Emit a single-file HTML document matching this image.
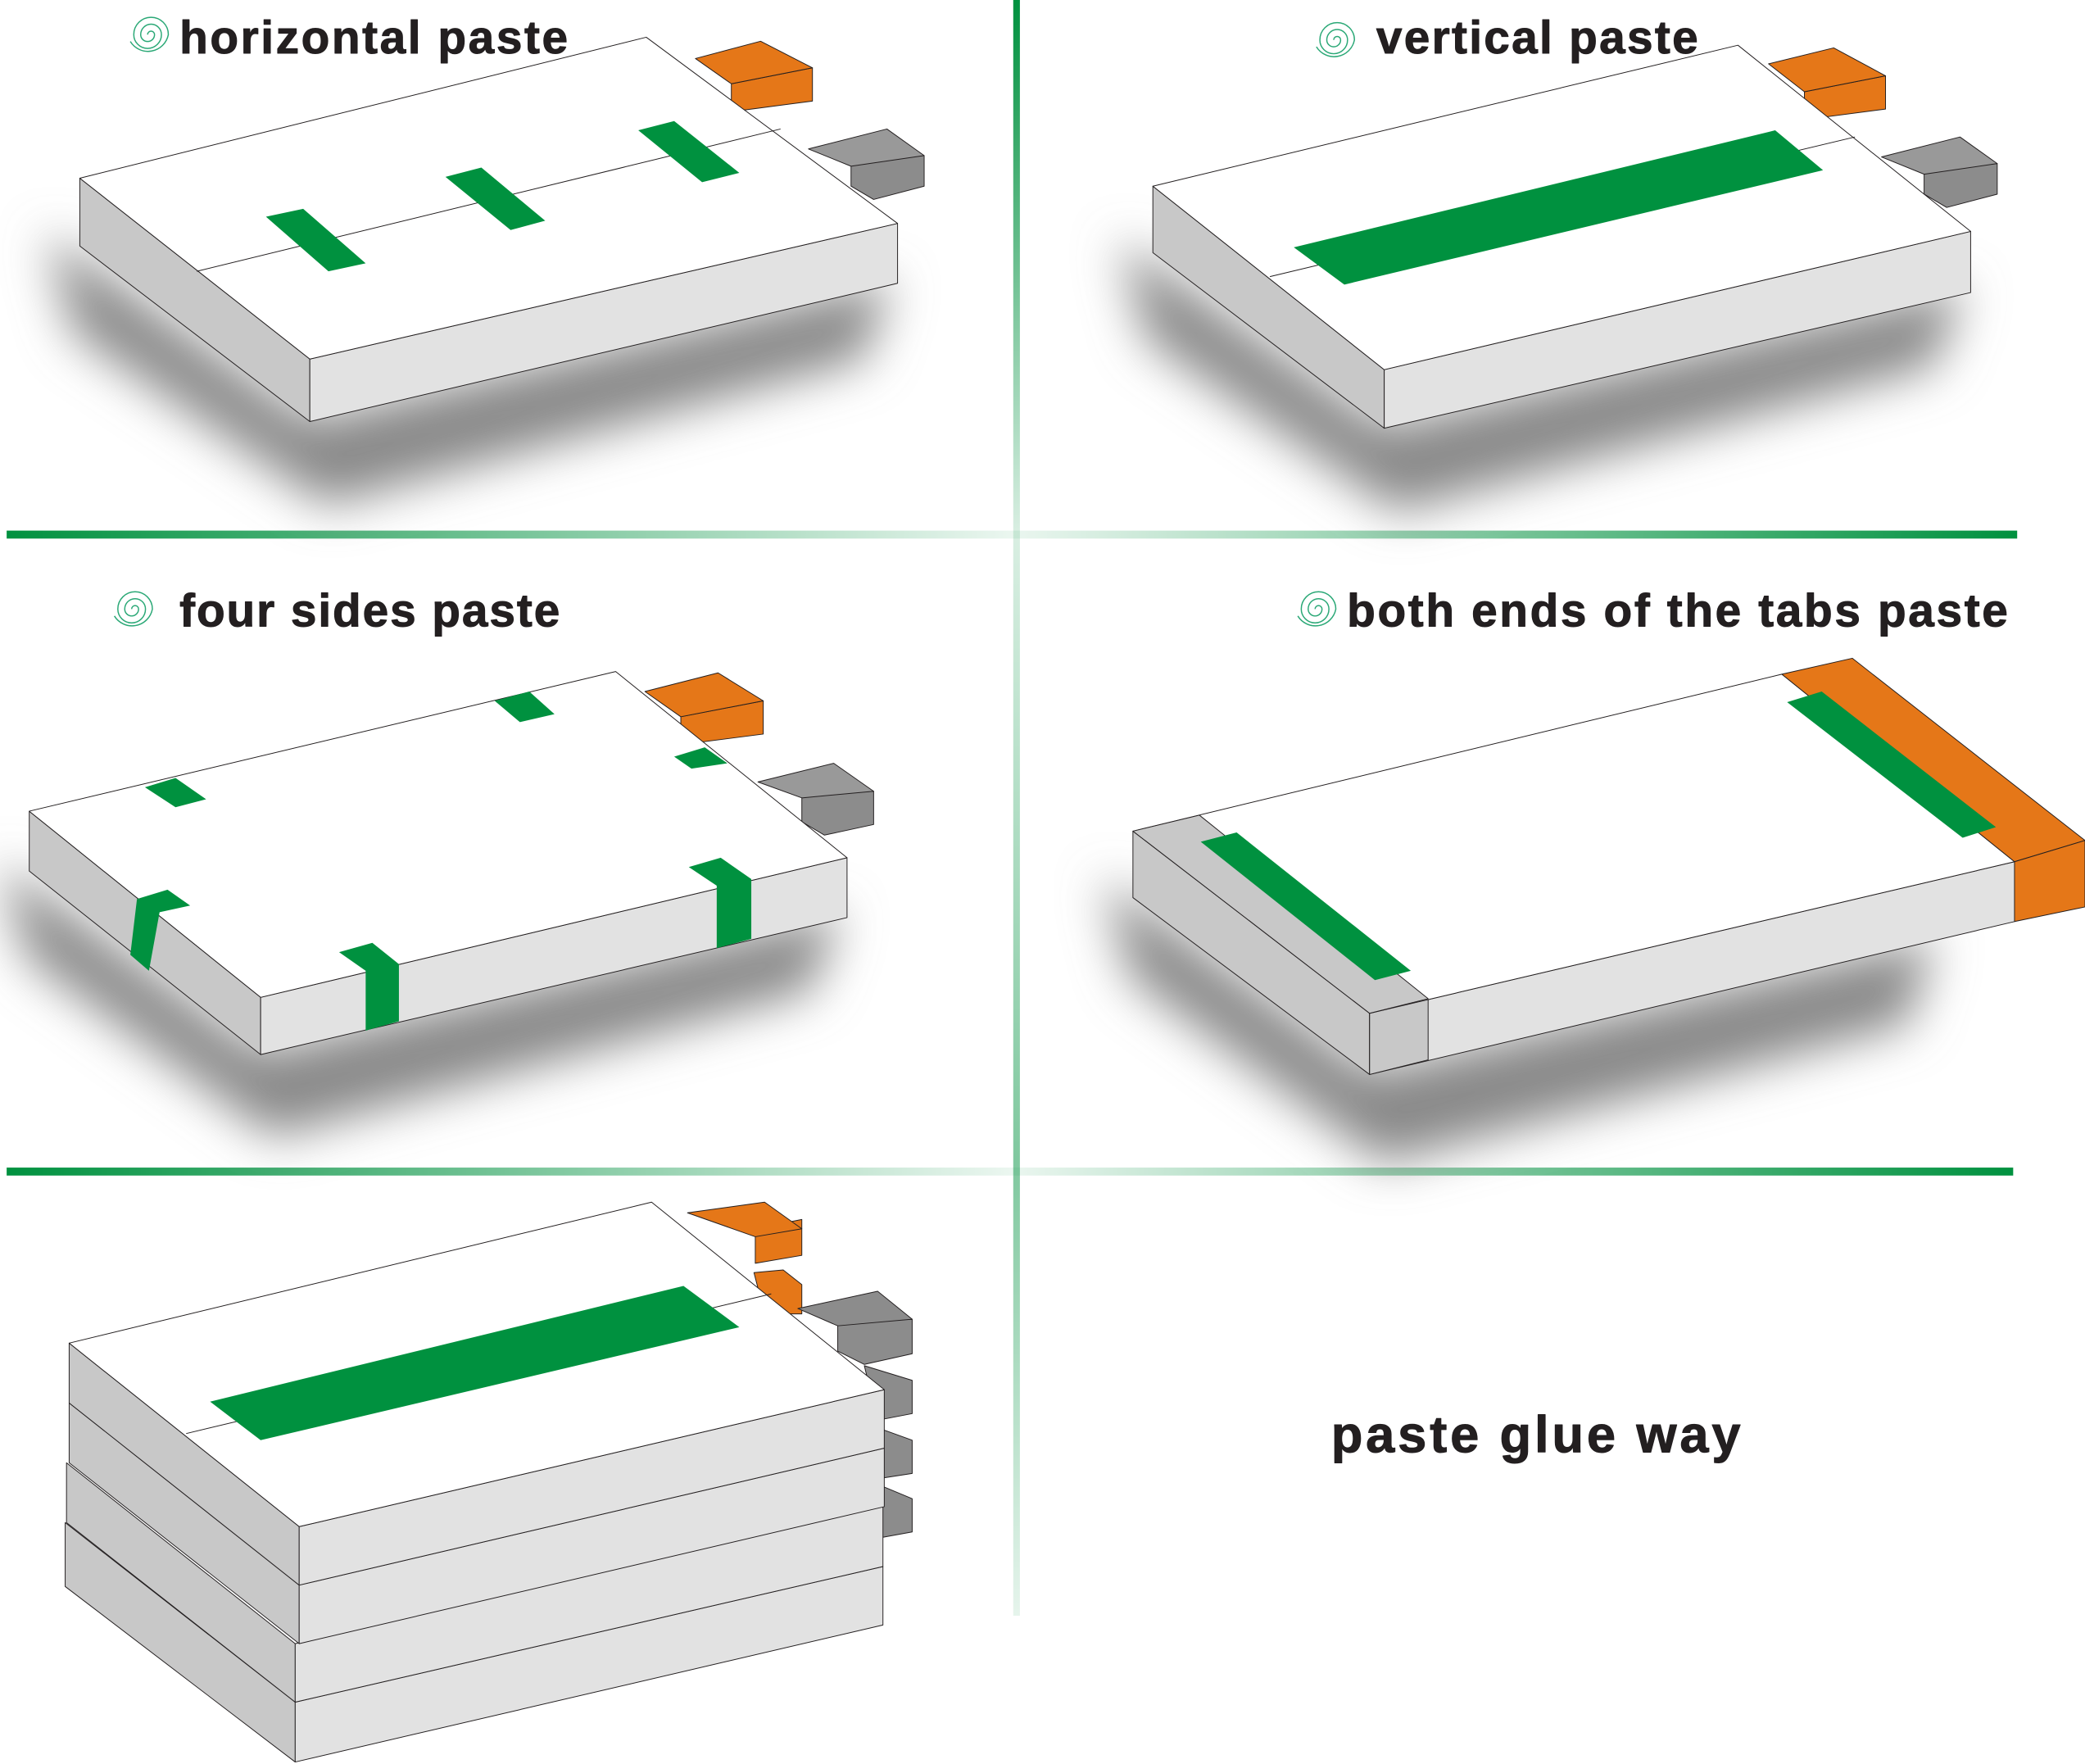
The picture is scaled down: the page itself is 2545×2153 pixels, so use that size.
<!DOCTYPE html>
<html><head><meta charset="utf-8"><style>
html,body{margin:0;padding:0;background:#fff;}
svg{display:block;}
text{font-family:"Liberation Sans",sans-serif;font-weight:bold;fill:#231f20;}
</style></head><body>
<svg width="2545" height="2153" viewBox="0 0 1568 1326.5" xmlns="http://www.w3.org/2000/svg">
<defs>
<filter id="bl" x="-30%" y="-30%" width="160%" height="160%"><feGaussianBlur stdDeviation="18"/></filter>
<linearGradient id="hg" x1="0" x2="1" y1="0" y2="0">
<stop offset="0" stop-color="#00913f"/><stop offset="0.5" stop-color="#00913f" stop-opacity="0.08"/><stop offset="1" stop-color="#00913f"/></linearGradient>
<linearGradient id="vg" x1="0" x2="0" y1="0" y2="1">
<stop offset="0" stop-color="#00913f"/><stop offset="0.33" stop-color="#00913f" stop-opacity="0.15"/><stop offset="0.72" stop-color="#00913f" stop-opacity="0.5"/><stop offset="1" stop-color="#00913f" stop-opacity="0.1"/></linearGradient>
<g id="sp"><path d="M0,0 a2,2 0 0 1 4,0 a4,4 0 0 1 -8,0 a6,6 0 0 1 12,0 a8,8 0 0 1 -16,0 a10,10 0 0 1 20,0 a12,12 0 0 1 -22,4" fill="none" stroke="#2aa876" stroke-width="0.7" transform="scale(1.3)"/></g>
</defs>
<g stroke="#231f20" stroke-width="0.6" stroke-linejoin="round">
<rect x="762" y="0" width="5" height="1215" fill="url(#vg)" stroke="none"/>
<rect x="5" y="399" width="1512" height="6" fill="url(#hg)" stroke="none"/>
<rect x="5" y="878" width="1509" height="6" fill="url(#hg)" stroke="none"/>

<!-- Panel 1 -->
<polygon points="35,175 233,315 670,210 650,270 245,380 55,250" fill="#888" filter="url(#bl)" stroke="none"/>
<polygon points="550,63 611,51 611,76 550,84" fill="#e57718"/>
<polygon points="523,44 572,31 611,51 550,63" fill="#e57718"/>
<polygon points="640,122 695,117 695,140 657,150 640,140" fill="#8c8c8c"/>
<polygon points="608,112 667,97 695,117 640,125" fill="#999"/>
<polygon points="60,134 233,270 233,317 60,185" fill="#c8c8c8"/>
<polygon points="233,270 675,168 675,213 233,317" fill="#e2e2e2"/>
<polygon points="60,134 486,28 675,168 233,270" fill="#fff"/>
<line x1="148" y1="204" x2="587" y2="97"/>
<g fill="#00913f" stroke="none">
<polygon points="200,163 228,157 275,198 247,204"/>
<polygon points="335,133 362,126 410,166 384,173"/>
<polygon points="480,98 507,91 556,130 528,137"/>
</g>
<use href="#sp" x="111" y="26"/>
<text x="135" y="40" font-size="35" textLength="292">horizontal paste</text>

<!-- Panel 2 -->
<polygon points="842,180 1041,320 1477,215 1455,275 1050,385 862,255" fill="#888" filter="url(#bl)" stroke="none"/>
<polygon points="1357,69 1418,57 1418,82 1357,90" fill="#e57718"/>
<polygon points="1330,48 1379,36 1418,57 1357,69" fill="#e57718"/>
<polygon points="1447,128 1502,123 1502,146 1464,156 1447,146" fill="#8c8c8c"/>
<polygon points="1415,118 1474,103 1502,123 1447,131" fill="#999"/>
<polygon points="867,140 1041,278 1041,322 867,190" fill="#c8c8c8"/>
<polygon points="1041,278 1482,174 1482,220 1041,322" fill="#e2e2e2"/>
<polygon points="867,140 1307,34 1482,174 1041,278" fill="#fff"/>
<line x1="955" y1="208" x2="1395" y2="103"/>
<polygon points="973,186 1335,98 1371,128 1011,214" fill="#00913f" stroke="none"/>
<use href="#sp" x="1003" y="30"/>
<text x="1035" y="40" font-size="35" textLength="242">vertical paste</text>

<!-- Panel 3 -->
<polygon points="0,648 196,790 632,685 610,745 205,855 20,720" fill="#888" filter="url(#bl)" stroke="none"/>
<polygon points="512,539 574,527 574,552 512,560" fill="#e57718"/>
<polygon points="485,520 540,506 574,527 512,539" fill="#e57718"/>
<polygon points="603,598 657,595 657,620 620,628 603,618" fill="#8c8c8c"/>
<polygon points="570,588 627,574 657,595 603,600" fill="#999"/>
<polygon points="22,610 196,750 196,793 22,655" fill="#c8c8c8"/>
<polygon points="196,750 637,645 637,690 196,793" fill="#e2e2e2"/>
<polygon points="22,610 463,505 637,645 196,750" fill="#fff"/>
<g fill="#00913f" stroke="none">
<polygon points="372,527 398,520 417,537 391,543"/>
<polygon points="109,592 132,585 155,601 132,607"/>
<polygon points="507,569 530,562 547,574 520,578"/>
<polygon points="103,676 126,669 143,681 120,686 112,730 98,718"/>
<polygon points="255,716 280,709 300,725 300,768 275,775 275,730"/>
<polygon points="518,652 542,645 565,661 565,706 539,713 539,666"/>
</g>
<use href="#sp" x="99" y="458"/>
<text x="135" y="471" font-size="35" textLength="286">four sides paste</text>

<!-- Panel 4 -->
<polygon points="830,660 1030,805 1455,705 1435,770 1040,875 850,735" fill="#888" filter="url(#bl)" stroke="none"/>
<polygon points="852,625 1030,762 1030,808 852,675" fill="#c8c8c8"/>
<polygon points="1030,762 1515,648 1515,693 1030,808" fill="#e2e2e2"/>
<polygon points="1030,762 1074,751 1074,797 1030,808" fill="#c8c8c8"/>
<polygon points="852,625 1340,507 1515,648 1030,762" fill="#fff"/>
<polygon points="852,625 902,613 1074,751 1030,762" fill="#c8c8c8"/>
<polygon points="1340,507 1393,495 1568,632 1515,648" fill="#e57718"/>
<polygon points="1515,648 1568,632 1568,682 1515,693" fill="#e57718"/>
<g fill="#00913f" stroke="none">
<polygon points="903,633 930,626 1061,730 1034,737"/>
<polygon points="1344,528 1370,520 1501,622 1476,630"/>
</g>
<use href="#sp" x="989" y="458"/>
<text x="1013" y="471" font-size="35" textLength="497">both ends of the tabs paste</text>

<!-- Panel 5 -->
<polygon points="568,924 603,917 603,944 568,950" fill="#e57718"/>
<polygon points="517,912 575,904 603,924 568,930" fill="#e57718"/>
<polygon points="567,957 589,955 603,966 603,988 575,988" fill="#e57718"/>
<g fill="#8c8c8c">
<polygon points="630,993 686,992 686,1018 650,1026 630,1016"/>
<polygon points="600,984 660,971 686,992 630,997"/>
<polygon points="650,1027 686,1038 686,1063 660,1068"/>
<polygon points="650,1070 686,1083 686,1108 660,1112"/>
<polygon points="650,1112 686,1127 686,1152 664,1156"/>
</g>
<polygon points="49,1145 222,1280 222,1325 49,1193" fill="#c8c8c8"/>
<polygon points="222,1280 664,1178 664,1222 222,1325" fill="#e2e2e2"/>
<polygon points="50,1100 222,1236 222,1280 50,1145" fill="#c8c8c8"/>
<polygon points="222,1236 664,1133 664,1178 222,1280" fill="#e2e2e2"/>
<polygon points="52,1055 225,1192 225,1236 52,1100" fill="#c8c8c8"/>
<polygon points="225,1192 665,1089 665,1133 225,1236" fill="#e2e2e2"/>
<polygon points="52,1010 225,1148 225,1192 52,1055" fill="#c8c8c8"/>
<polygon points="225,1148 665,1045 665,1089 225,1192" fill="#e2e2e2"/>
<polygon points="52,1010 490,904 665,1045 225,1148" fill="#fff"/>
<line x1="140" y1="1078" x2="580" y2="973"/>
<polygon points="158,1054 514,967 556,998 196,1083" fill="#00913f" stroke="none"/>

<text x="1001" y="1092" font-size="39" textLength="308">paste glue way</text>
</g>
</svg>
</body></html>
